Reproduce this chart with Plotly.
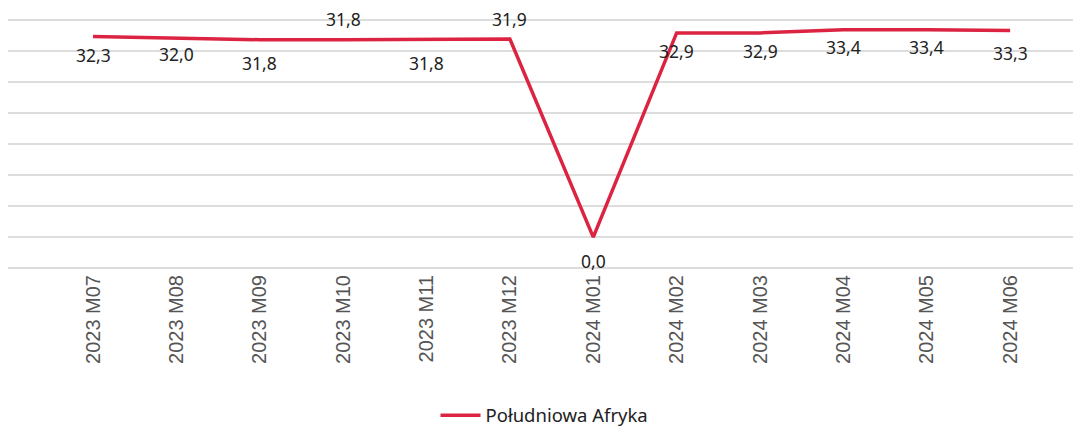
import plotly.graph_objects as go

categories = ["2023 M07", "2023 M08", "2023 M09", "2023 M10", "2023 M11", "2023 M12",
              "2024 M01", "2024 M02", "2024 M03", "2024 M04", "2024 M05", "2024 M06"]
values = [32.3, 32.0, 31.8, 31.8, 31.8, 31.9, 0.0, 32.9, 32.9, 33.4, 33.4, 33.3]
series_name = "Południowa Afryka"

# label offsets in pixels (positive = below the point), style only
label_offsets = [18, 16, 23, -21, 23, -20, 24, 18, 18, 17, 17, 23]

line_color = "#DC2442"

fig = go.Figure()
fig.add_trace(go.Scatter(
    x=list(range(len(categories))), y=values, mode="lines", name=series_name,
    line=dict(color=line_color, width=3.5),
    hoverinfo="skip",
))

for i, (v, off) in enumerate(zip(values, label_offsets)):
    fig.add_annotation(
        x=i, y=v, xref="x", yref="y",
        text=f"{v:.1f}".replace(".", ","),
        showarrow=False, yanchor="middle", xanchor="center",
        yshift=-off,
        font=dict(family="Noto Sans, Open Sans, sans-serif", size=17.5, color="#222222"),
    )

fig.update_layout(
    width=1073, height=419,
    margin=dict(l=0, r=0, t=10, b=157, autoexpand=False),
    paper_bgcolor="white", plot_bgcolor="white",
    showlegend=True,
    legend=dict(orientation="h", x=0.5, xanchor="center", y=-0.578, yanchor="middle",
                font=dict(family="Noto Sans, Open Sans, sans-serif", size=18.5, color="#222222"),
                itemwidth=40),
    xaxis=dict(
        range=[-1.02, 11.85],
        automargin=False,
        tickmode="array",
        tickvals=list(range(len(categories))),
        ticktext=categories,
        tickangle=-90,
        showgrid=False, zeroline=False, showline=False,
        ticks="", ticklen=0,
        tickfont=dict(family="Liberation Sans, Arial, sans-serif", size=20, color="#555555"),
    ),
    yaxis=dict(
        range=[-5.3, 35.3],
        automargin=False,
        dtick=5, tick0=0,
        showgrid=True, gridcolor="#dddddd", gridwidth=1.5,
        zeroline=False, showline=False,
        showticklabels=False, ticks="",
    ),
)

fig.write_html("out.html")
